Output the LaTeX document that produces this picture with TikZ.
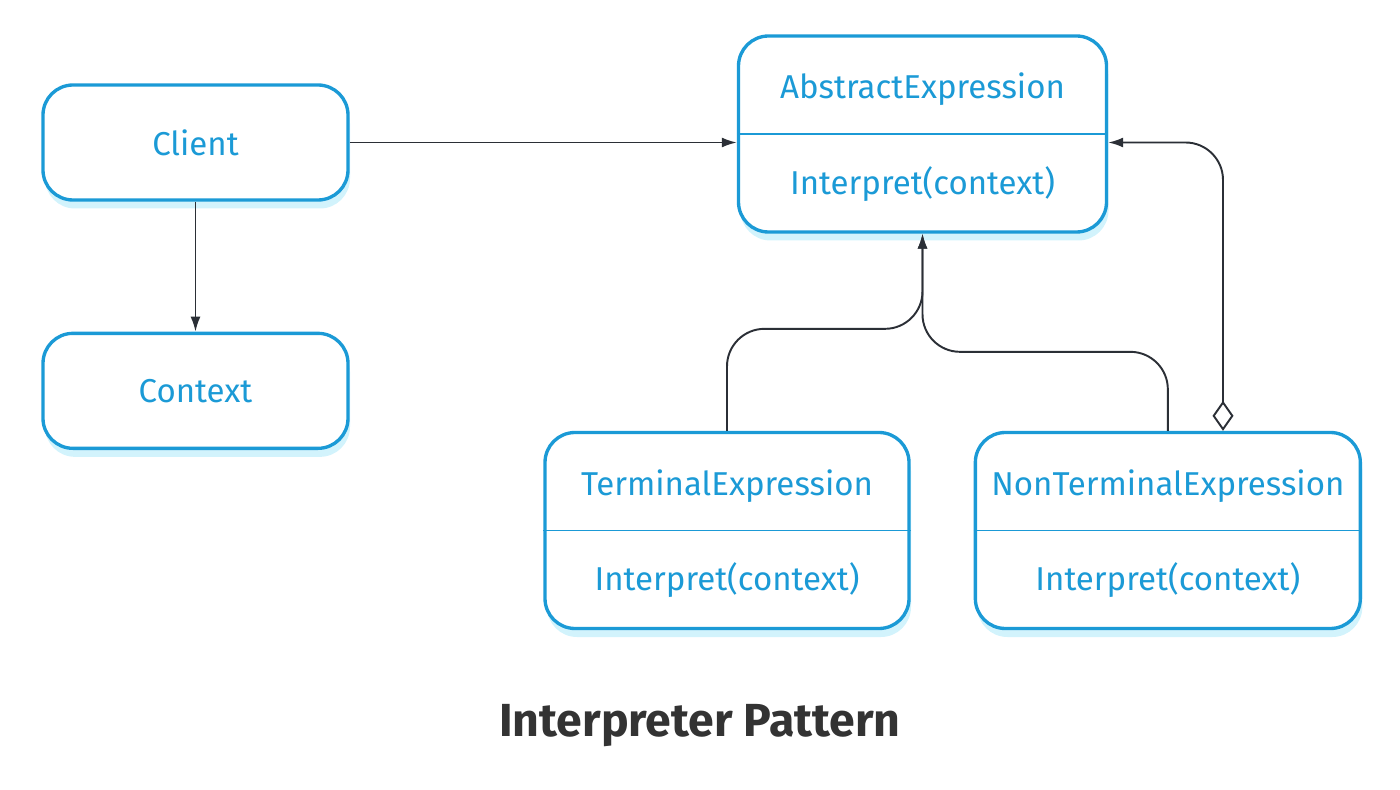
\documentclass[tikz,border=0pt]{standalone}
\usepackage{fontspec}
\setmainfont{Fira Sans}
\usepackage{tikz}
\usetikzlibrary{positioning}
\usetikzlibrary{arrows,arrows.meta}
\usetikzlibrary{calc}
\usetikzlibrary{shadows}
\definecolor{umlblue}{RGB}{27,154,214}
\definecolor{umlshadow}{RGB}{210,243,252}
\definecolor{linkgray}{RGB}{43,47,54}
\definecolor{titlegray}{RGB}{51,51,51}
\tikzstyle{block} = [draw=umlblue, line width=1.9pt, fill=white, rectangle, rounded corners=0.6cm, text=umlblue, drop shadow={shadow xshift=0.04cm, shadow yshift=-0.17cm, fill=umlshadow, opacity=1}]
\tikzstyle{classbox} = [block, font=\fontsize{18.8}{22}\selectfont, minimum width=6.1cm, minimum height=2.3cm]
\tikzstyle{umlbox} = [block, minimum height=3.92cm]
\tikzstyle{member} = [text=umlblue, font=\fontsize{18.8}{22}\selectfont]
\tikzstyle{divider} = [draw=umlblue, line width=0.8pt]
\tikzstyle{link} = [draw=linkgray, line width=1.1pt, rounded corners=0.75cm]
\tikzstyle{coord} = [coordinate]

\begin{document}
\begin{tikzpicture}[auto, >={Latex[length=3mm,width=2mm]}]
	\useasboundingbox (0,0) rectangle (28,-15.8);
	\node [classbox] (client) at (3.91,-2.85) {Client};
	\node [classbox, below=2.6cm of client] (context) {Context};
	\node [umlbox, minimum width=7.36cm] (abstract) at (18.45,-2.68) {};
	\node [umlbox, minimum width=7.28cm] (terminal) at (14.54,-10.61) {};
	\node [umlbox, minimum width=7.7cm, right=1.26cm of terminal] (nonterminal) {};
	\node [coord] (aggx) at (24.46,0) {};

	\draw [divider] (abstract.west) -- (abstract.east);
	\draw [divider] (terminal.west) -- (terminal.east);
	\draw [divider] (nonterminal.west) -- (nonterminal.east);
	\node [member, yshift=-0.1cm] (abstractname) at ($(abstract.north)!.5!(abstract.center)$) {AbstractExpression};
	\node [member] (abstractop) at ($(abstract.south)!.5!(abstract.center)$) {Interpret(context)};
	\node [member, yshift=-0.1cm] (terminalname) at ($(terminal.north)!.5!(terminal.center)$) {TerminalExpression};
	\node [member] (terminalop) at ($(terminal.south)!.5!(terminal.center)$) {Interpret(context)};
	\node [member, yshift=-0.1cm] (nonterminalname) at ($(nonterminal.north)!.5!(nonterminal.center)$) {NonTerminalExpression};
	\node [member] (nonterminalop) at ($(nonterminal.south)!.5!(nonterminal.center)$) {Interpret(context)};
	\node [font=\bfseries\fontsize{26.4}{30}\selectfont, text=titlegray] (title) at (14,-14.52) {Interpreter Pattern};

	\draw [link, ->] (client.east) -- (client.east -| abstract.west);
	\draw [link, ->] (client) -- (context);
	\draw [link, ->] (terminal.north) -- ++(0,2.04) -| (abstract.south);
	\draw [link, ->] (nonterminal.north) -- ++(0,1.58) -| (abstract.south);
	\draw [link, {Diamond[open,length=6mm,width=4.2mm]}-{Latex[length=3mm,width=2mm]}] (aggx |- nonterminal.north) |- (abstract.east |- client.east);
\end{tikzpicture}
\end{document}
